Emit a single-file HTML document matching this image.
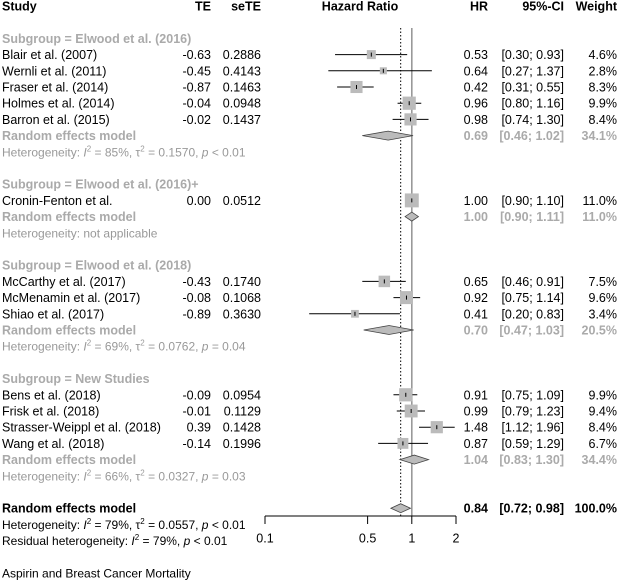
<!DOCTYPE html>
<html><head><meta charset="utf-8"><style>
html,body{margin:0;padding:0;background:#fff}
svg{display:block;font-family:"Liberation Sans",Arial,sans-serif}
</style></head><body>
<svg id="chart" width="618" height="581" viewBox="0 0 618 581" xmlns="http://www.w3.org/2000/svg">
<g id="g"></g>
</svg>
<script>
// ---- data ----
const studies = ["Blair et al. (2007)","Wernli et al. (2011)","Fraser et al. (2014)","Holmes et al. (2014)","Barron et al. (2015)","Cronin-Fenton et al.","McCarthy et al. (2017)","McMenamin et al. (2017)","Shiao et al. (2017)","Bens et al. (2018)","Frisk et al. (2018)","Strasser-Weippl et al. (2018)","Wang et al. (2018)"];
const studyRows = [3,4,5,6,7,12,17,18,19,24,25,26,27];
const te = ["-0.63","-0.45","-0.87","-0.04","-0.02","0.00","-0.43","-0.08","-0.89","-0.09","-0.01","0.39","-0.14"];
const sete = ["0.2886","0.4143","0.1463","0.0948","0.1437","0.0512","0.1740","0.1068","0.3630","0.0954","0.1129","0.1428","0.1996"];
const hr = [0.53,0.64,0.42,0.96,0.98,1.00,0.65,0.92,0.41,0.91,0.99,1.48,0.87];
const lower = [0.30,0.27,0.31,0.80,0.74,0.90,0.46,0.75,0.20,0.75,0.79,1.12,0.59];
const upper = [0.93,1.37,0.55,1.16,1.30,1.10,0.91,1.14,0.83,1.09,1.23,1.96,1.29];
const weight = [4.6,2.8,8.3,9.9,8.4,11.0,7.5,9.6,3.4,9.9,9.4,8.4,6.7];
const groupNames = ["Subgroup = Elwood et al. (2016)","Subgroup = Elwood et al. (2016)+","Subgroup = Elwood et al. (2018)","Subgroup = New Studies"];
const groupHeaderRows = [2,11,16,23];
const groupRemRows = [8,13,20,28];
const groupHr = [0.69,1.00,0.70,1.04];
const groupLower = [0.46,0.90,0.47,0.83];
const groupUpper = [1.02,1.11,1.03,1.30];
const groupWeight = ["34.1%","11.0%","20.5%","34.4%"];
const groupHet = [["85%","0.1570","p < 0.01"],null,["69%","0.0762","p = 0.04"],["66%","0.0327","p = 0.03"]];
const overallHr = 0.84, overallLower = 0.72, overallUpper = 0.98;
const tickValues = [0.1,0.5,1,2];
const tickLabels = ["0.1","0.5","1","2"];

// ---- scales ----
const X0 = 265, PER_DEC = 146.8;
function xs(v){ return X0 + PER_DEC*Math.log10(v/0.1); }
function ys(row){ return 6 + 16.2*row; }
const NS="http://www.w3.org/2000/svg";
const g=document.getElementById('g');
function el(tag,attrs,parent){const e=document.createElementNS(NS,tag);for(const k in attrs)e.setAttribute(k,attrs[k]);(parent||g).appendChild(e);return e;}
function txt(x,y,s,opts){const t=el('text',{x:x,y:y+4.5,'font-size':opts.fs||12.5,fill:opts.fill||'#000','text-anchor':opts.anchor||'start','font-weight':opts.bold?'bold':'normal'});t.textContent=s;return t;}
function fmt(v){return v.toFixed(2);}
const COL={TE:211,SE:261,HR:488,CI:564,W:617};

// headers
let t;
t=txt(2,ys(0),"Study",{bold:1});


t=txt(COL.TE,ys(0),"TE",{bold:1,anchor:'end'});


t=txt(COL.SE,ys(0),"seTE",{bold:1,anchor:'end'});


t=txt(360,ys(0),"Hazard Ratio",{bold:1,anchor:'middle'});


t=txt(COL.HR,ys(0),"HR",{bold:1,anchor:'end'});


t=txt(COL.CI,ys(0),"95%-CI",{bold:1,anchor:'end'});


t=txt(COL.W,ys(0),"Weight",{bold:1,anchor:'end'});



// reference lines
let ln=el('line',{x1:xs(1),x2:xs(1),y1:28,y2:516,stroke:'#999','stroke-width':1.6});


ln=el('line',{x1:xs(overallHr),x2:xs(overallHr),y1:28,y2:516,stroke:'#000','stroke-width':1,'stroke-dasharray':'1.5,2'});



// studies
studies.forEach((s,i)=>{
  const y=ys(studyRows[i]);
  let a=txt(2,y,s,{});
  
  
  a=txt(COL.TE,y,te[i],{anchor:'end'});
  
  
  a=txt(COL.SE,y,sete[i],{anchor:'end'});
  
  
  a=txt(COL.HR,y,fmt(hr[i]),{anchor:'end'});
  
  
  a=txt(COL.CI,y,"["+fmt(lower[i])+"; "+fmt(upper[i])+"]",{anchor:'end'});
  
  
  a=txt(COL.W,y,weight[i].toFixed(1)+"%",{anchor:'end'});
  
  
  const l=el('line',{x1:xs(lower[i]),x2:xs(upper[i]),y1:y,y2:y,stroke:'#000','stroke-width':1});
  
  
  const side=4.2*Math.sqrt(weight[i]);
  const sq=el('rect',{x:xs(hr[i])-side/2,y:y-side/2,width:side,height:side,fill:'#bbb'});
  
  
  const tk=el('line',{x1:xs(hr[i]),x2:xs(hr[i]),y1:y-2,y2:y+2,stroke:'#000','stroke-width':1});
  
  
});

function diamond(lo,mid,hi,y){
  return el('polygon',{points:`${xs(lo)},${y} ${xs(mid)},${y-4.5} ${xs(hi)},${y} ${xs(mid)},${y+4.5}`,fill:'#bbb',stroke:'#444','stroke-width':0.8});
}
function het(y,i2,tau,p,fill){
  const tt=el('text',{x:2,y:y+4.5,'font-size':12,fill:fill});
  tt.innerHTML=`Heterogeneity: <tspan font-style="italic">I</tspan><tspan dy="-5" font-size="8">2</tspan><tspan dy="5"> = ${i2}, τ</tspan><tspan dy="-5" font-size="8">2</tspan><tspan dy="5"> = ${tau}, </tspan><tspan font-style="italic">p</tspan> ${p.slice(2)}`;
  return tt;
}
const GREY='#aaa';
groupNames.forEach((n,i)=>{
  let a=txt(2,ys(groupHeaderRows[i]),n,{bold:1,fill:GREY});
  
  
  const y=ys(groupRemRows[i]);
  a=txt(2,y,"Random effects model",{bold:1,fill:GREY});
  
  
  a=txt(COL.HR,y,fmt(groupHr[i]),{bold:1,fill:GREY,anchor:'end'});
  
  
  a=txt(COL.CI,y,"["+fmt(groupLower[i])+"; "+fmt(groupUpper[i])+"]",{bold:1,fill:GREY,anchor:'end'});
  
  
  a=txt(COL.W,y,groupWeight[i],{bold:1,fill:GREY,anchor:'end'});
  
  
  const d=diamond(groupLower[i],groupHr[i],groupUpper[i],y);
  
  
  let h;
  if(groupHet[i]) h=het(y+16.2,groupHet[i][0],groupHet[i][1],groupHet[i][2],'#999');
  else { h=el('text',{x:2,y:y+16.2+4.5,'font-size':12,fill:'#999'}); h.textContent="Heterogeneity: not applicable"; }
  
  
});

// overall
const yo=ys(31);
let a=txt(2,yo,"Random effects model",{bold:1});


a=txt(COL.HR,yo,fmt(overallHr),{bold:1,anchor:'end'});


a=txt(COL.CI,yo,"["+fmt(overallLower)+"; "+fmt(overallUpper)+"]",{bold:1,anchor:'end'});


a=txt(COL.W,yo,"100.0%",{bold:1,anchor:'end'});


const od=diamond(overallLower,overallHr,overallUpper,yo);


const oh=het(ys(32),"79%","0.0557","p < 0.01",'#000');


const rh=el('text',{x:2,y:ys(33)+4.5,'font-size':12,fill:'#000'});
rh.innerHTML='Residual heterogeneity: <tspan font-style="italic">I</tspan><tspan dy="-5" font-size="8">2</tspan><tspan dy="5"> = 79%, </tspan><tspan font-style="italic">p</tspan> &lt; 0.01';



// axis
const ax=el('line',{x1:xs(tickValues[0]),x2:xs(tickValues[tickValues.length-1]),y1:516,y2:516,stroke:'#000','stroke-width':1});


tickValues.forEach((v,i)=>{
  const tk=el('line',{x1:xs(v),x2:xs(v),y1:516,y2:524,stroke:'#000','stroke-width':1});
  
  
  const lb=txt(xs(v),538,tickLabels[i],{anchor:'middle'});
  
  
});
const cap=txt(2,573,"Aspirin and Breast Cancer Mortality",{fs:12});


</script>
</body></html>
